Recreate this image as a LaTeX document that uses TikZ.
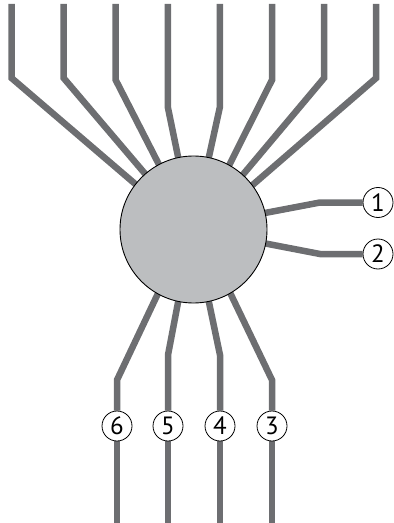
\documentclass[tikz,border=0pt]{standalone}
\usepackage{fontspec}
\setmainfont{PT Sans}
\usetikzlibrary{backgrounds}
\definecolor{wire}{HTML}{6D6E71}
\definecolor{hubfill}{HTML}{BCBEC0}
\tikzset{
  hub/.style={circle, draw=black, line width=0.9bp, fill=hubfill, minimum size=147bp, inner sep=0pt},
  tag/.style={circle, draw=black, line width=0.8bp, fill=white, minimum size=30bp, inner sep=0pt,
              font=\fontsize{25bp}{25bp}\selectfont},
  wire/.style={draw=wire, line width=6.5bp, line join=miter},
  intohub/.style={wire, shorten <=-4bp},
}
\begin{document}
\begin{tikzpicture}[x=1bp, y=-1bp]
\useasboundingbox (0,0) rectangle (393,523);

% central hub
\node[hub] (c) at (193.5,229.5) {};

% numbered tags
\node[tag] (t1) at (378,202.5) {1};
\node[tag] (t2) at (378,254) {2};
\node[tag] (t3) at (272,426) {3};
\node[tag] (t4) at (220,426) {4};
\node[tag] (t5) at (168,426) {5};
\node[tag] (t6) at (117,426) {6};

% free ends at the picture edges
\foreach \i/\x in {1/11.5, 2/63.6, 3/115.7, 4/167.8, 5/219.9, 6/272, 7/324.1, 8/376.2}
  \coordinate (top\i) at (\x,4);
\coordinate (bot3) at (272,523);
\coordinate (bot4) at (220,523);
\coordinate (bot5) at (168,523);
\coordinate (bot6) at (117,523);

\begin{scope}[on background layer]
  % upper wires
  \draw[intohub] (c.142.7) -- (11.5,78)  -- (top1);
  \draw[intohub] (c.131.8) -- (63.6,78)  -- (top2);
  \draw[intohub] (c.118.1) -- (115.7,80) -- (top3);
  \draw[intohub] (c.102)   -- (167.8,107) -- (top4);
  \draw[intohub] (c.78)    -- (219.9,107) -- (top5);
  \draw[intohub] (c.61.9)  -- (272,80)   -- (top6);
  \draw[intohub] (c.48.2)  -- (324.1,78) -- (top7);
  \draw[intohub] (c.37.3)  -- (376.2,78) -- (top8);
  % right wires
  \draw[intohub] (c.13)    -- (320,202.5) -- (t1.west);
  \draw[intohub] (c.-11.9) -- (320,254)   -- (t2.west);
  % lower wires
  \draw[intohub] (c.-60.9) -- (272,380) -- (t3.north);
  \draw[intohub] (c.-78)   -- (220,355) -- (t4.north);
  \draw[intohub] (c.-102)  -- (168,355) -- (t5.north);
  \draw[intohub] (c.-119.1) -- (117,380) -- (t6.north);
  \draw[wire] (t3.south) -- (bot3);
  \draw[wire] (t4.south) -- (bot4);
  \draw[wire] (t5.south) -- (bot5);
  \draw[wire] (t6.south) -- (bot6);
\end{scope}
\end{tikzpicture}
\end{document}
